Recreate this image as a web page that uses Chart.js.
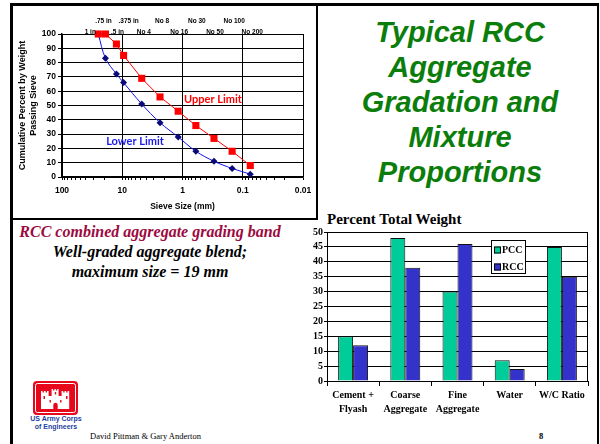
<!DOCTYPE html>
<html>
<head>
<meta charset="utf-8">
<script src="https://cdn.jsdelivr.net/npm/chart.js@4.4.1/dist/chart.umd.min.js"></script>
<style>
  html, body { margin: 0; padding: 0; background: #fff; }
  body { width: 600px; height: 444px; position: relative; overflow: hidden; }
  .rule { position: absolute; background: #000; }
  #gradBox { position: absolute; left: 11px; top: 4px; width: 305px; height: 212px; border: 2px solid #000; border-left: none; }
  #gradCanvas { position: absolute; left: 13px; top: 6px; }
  #mixCanvas { position: absolute; left: 296px; top: 225px; }
  #heading { position: absolute; left: 330px; top: 15px; width: 260px; text-align: center;
             font: italic bold 29px "Liberation Sans", Arial, sans-serif; line-height: 35px; color: #0b7d0b; }
  #band { position: absolute; left: 12px; top: 222px; width: 276px; text-align: center;
          font: italic bold 16px "Liberation Serif", "Times New Roman", serif; line-height: 20px; color: #000; }
  #band .lead { color: #9c0a40; }
  #mixTitle { position: absolute; left: 327px; top: 210px; font: bold 15px "Liberation Serif", serif; line-height: 18px; color: #000; }
  #logo { position: absolute; left: 33px; top: 381px; }
  #corps { position: absolute; left: 24px; top: 415px; width: 64px; text-align: center;
           font: bold 7px "Liberation Sans", Arial, sans-serif; line-height: 8px; color: #1d3f9e; }
  #authors { position: absolute; left: 90px; top: 431px; font: 8.5px "Liberation Serif", serif; line-height: 10px; color: #000; }
  #page { position: absolute; left: 539px; top: 431px; font: bold 8.5px "Liberation Serif", serif; line-height: 10px; color: #000; }
</style>
</head>
<body>
<div class="rule" style="left:10px;top:3px;width:589px;height:3px;"></div>
<div class="rule" style="left:10px;top:3px;width:3px;height:441px;"></div>
<div class="rule" style="left:597px;top:3px;width:2px;height:441px;"></div>
<div id="gradBox"></div>
<canvas id="gradCanvas" width="303" height="210"></canvas>

<div id="heading">Typical RCC<br>Aggregate<br>Gradation and<br>Mixture<br>Proportions</div>

<div id="band"><span class="lead">RCC combined aggregate grading band</span><br>Well-graded aggregate blend;<br>maximum size = 19 mm</div>

<div id="mixTitle">Percent Total Weight</div>
<canvas id="mixCanvas" width="300" height="195"></canvas>

<svg id="logo" width="45" height="34" viewBox="0 0 45 34">
  <rect x="0" y="0" width="45" height="34" rx="4" fill="#e8081c"/>
  <rect x="2.5" y="2.5" width="40" height="29" rx="2" fill="none" stroke="#fff" stroke-width="1"/>
  <!-- castle -->
  <path fill="#fff" d="M8 28 V10 h1.6 v1.6 h1.4 V10 h1.6 v1.6 h1.4 V10 h1.6 v5 h3 V8 h1.4 v1.5 h1.4 V8 h1.4 v1.5 h1.4 V8 h1.4 v7 h3 V10 h1.6 v1.6 h1.4 V10 h1.6 v1.6 h1.4 V10 h1.6 V28 Z"/>
  <path fill="#e8081c" d="M20.3 28 v-4 a2.2 2.2 0 0 1 4.4 0 v4 Z"/>
  <rect x="10.5" y="15" width="1.5" height="3" fill="#e8081c"/>
  <rect x="33" y="15" width="1.5" height="3" fill="#e8081c"/>
  <rect x="21.8" y="11" width="1.4" height="2.5" fill="#e8081c"/>
  <rect x="16.5" y="19" width="1.4" height="2.5" fill="#e8081c"/>
  <rect x="27.1" y="19" width="1.4" height="2.5" fill="#e8081c"/>
</svg>
<div id="corps">US Army Corps<br>of Engineers</div>
<div id="authors">David Pittman &amp; Gary Anderton</div>
<div id="page">8</div>

<script>
// ---- Aggregate gradation band ----
const sieveSizes = [25, 19, 12.5, 9.5, 4.75, 2.36, 1.18, 0.6, 0.3, 0.15, 0.075]; // mm
const sieveNames = ['1 in', '.75 in', '.5 in', '.375 in', 'No 4', 'No 8', 'No 16', 'No 30', 'No 50', 'No 100', 'No 200'];
const upperLimit = [100, 100, 93, 85, 69, 56, 46, 36, 27, 18, 8];
const lowerLimit = [100, 83, 72, 66, 51, 38, 28, 18, 11, 6, 2];
const decadeTicks = [100, 10, 1, 0.1, 0.01];
const percentTicks = [0, 10, 20, 30, 40, 50, 60, 70, 80, 90, 100];

// ---- Mixture proportions ----
const mixCategories = [['Cement +', 'Flyash'], ['Coarse', 'Aggregate'], ['Fine', 'Aggregate'], 'Water', 'W/C Ratio'];
const pccValues = [15, 48, 30, 7, 45];
const rccValues = [12, 38, 46, 4, 35];
const weightTicks = [0, 5, 10, 15, 20, 25, 30, 35, 40, 45, 50];

const SANS = '"Liberation Sans", Arial, sans-serif';
const SERIF = '"Liberation Serif", "Times New Roman", serif';

const isDecade = v => decadeTicks.some(d => Math.abs(d - v) / d < 1e-6);

// text labels naming each limit curve, placed in data space
const curveLabels = {
  id: 'curveLabels',
  afterDatasetsDraw(chart, args, opts) {
    const { ctx, scales } = chart;
    ctx.save();
    ctx.font = 'bold 11px Lato, "Open Sans", sans-serif';
    ctx.textAlign = 'center';
    ctx.textBaseline = 'middle';
    for (const l of opts.items) {
      ctx.fillStyle = l.color;
      ctx.fillText(l.text, scales.x.getPixelForValue(l.x), scales.y.getPixelForValue(l.y));
    }
    ctx.restore();
  }
};

// sieve designations above the plot, staggered on two rows
const sieveAxis = {
  id: 'sieveAxis',
  afterDraw(chart, args, opts) {
    const { ctx, scales, chartArea } = chart;
    ctx.save();
    ctx.font = 'bold 6.5px ' + SANS;
    ctx.fillStyle = '#000';
    ctx.textAlign = 'center';
    ctx.textBaseline = 'middle';
    sieveSizes.forEach((s, i) => {
      const row = i % 2 === 0 ? opts.lowerRow : opts.upperRow;
      const x = scales.x.getPixelForValue(s) + (opts.nudge[i] || 0);
      ctx.fillText(sieveNames[i], x, chartArea.top - row);
    });
    ctx.restore();
  }
};

new Chart(document.getElementById('gradCanvas'), {
  type: 'scatter',
  data: {
    datasets: [
      {
        label: 'Upper Limit',
        data: sieveSizes.map((s, i) => ({ x: s, y: upperLimit[i] })),
        showLine: true,
        borderColor: '#ff0000', backgroundColor: '#ff0000', borderWidth: 1,
        pointStyle: 'rect', pointRadius: 5, pointBorderWidth: 0,
        tension: 0, clip: false
      },
      {
        label: 'Lower Limit',
        data: sieveSizes.map((s, i) => ({ x: s, y: lowerLimit[i] })),
        showLine: true,
        borderColor: '#1010f0', backgroundColor: '#0a0a78', borderWidth: 1,
        pointStyle: 'rectRot', pointRadius: 3.5, pointBorderWidth: 0,
        pointBorderColor: '#0a0a78',
        tension: 0.35, clip: false
      }
    ]
  },
  options: {
    responsive: false, animation: false,
    layout: { padding: { left: 0, top: 28, right: 13, bottom: 0 } },
    plugins: {
      legend: { display: false }, tooltip: { enabled: false },
      curveLabels: {
        items: [
          { text: 'Upper Limit', x: 0.312, y: 54.5, color: '#ff0000' },
          { text: 'Lower Limit', x: 6.14, y: 25.2, color: '#1a1aee' }
        ]
      },
      sieveAxis: { upperRow: 12.5, lowerRow: 2, nudge: [-8, -2, 1, 5, 2, 2, 1, 1, 1, 2, 2] }
    },
    scales: {
      x: {
        type: 'logarithmic', position: 'bottom', reverse: true, min: 0.01, max: 100,
        afterBuildTicks(s) {
          const t = [];
          for (let e = -2; e <= 1; e++) for (let m = 1; m <= 9; m++) t.push({ value: +(m * Math.pow(10, e)).toPrecision(6) });
          t.push({ value: 100 });
          s.ticks = t;
        },
        afterFit(s) { s.height = 39; },
        ticks: {
          autoSkip: false, maxRotation: 0, minRotation: 0, padding: 6, color: '#000',
          font: { family: SANS, size: 8.5, weight: 'bold' },
          callback(v) { const d = decadeTicks.find(x => Math.abs(x - v) / x < 1e-6); return d !== undefined ? String(d) : ''; }
        },
        grid: {
          color: c => (c.tick && isDecade(c.tick.value)) ? '#000' : 'rgba(0,0,0,0)',
          tickColor: '#000', tickLength: 3, lineWidth: 1
        },
        border: { color: '#000', width: 1.5 },
        title: { display: true, text: 'Sieve Size (mm)', color: '#000', font: { family: SANS, size: 8.5, weight: 'bold' }, padding: { top: 0, bottom: 4 } }
      },
      y: {
        min: 0, max: 100,
        afterBuildTicks(s) { s.ticks = percentTicks.map(v => ({ value: v })); },
        afterFit(s) { s.width = 49; },
        ticks: { autoSkip: false, padding: 2, color: '#000', font: { family: SANS, size: 8.5, weight: 'bold' } },
        grid: { color: '#000', tickColor: '#000', tickLength: 4, lineWidth: 1 },
        border: { color: '#000', width: 1.5 },
        title: {
          display: true, text: ['Cumulative Percent by Weight', 'Passing Sieve'], color: '#000',
          font: { family: SANS, size: 9, weight: 'bold', lineHeight: 1.25 }, padding: { top: 3.4, bottom: 0 }
        }
      }
    }
  },
  plugins: [curveLabels, sieveAxis]
});

// boxed legend drawn inside the plot, upper right
const insetLegend = {
  id: 'insetLegend',
  afterDraw(chart, args, opts) {
    const { ctx, chartArea } = chart;
    const x0 = chartArea.left + opts.dx, y0 = chartArea.top + opts.dy;
    ctx.save();
    ctx.fillStyle = '#fff';
    ctx.fillRect(x0, y0, opts.w, opts.h);
    ctx.strokeStyle = '#000'; ctx.lineWidth = 1;
    ctx.strokeRect(x0 + 0.5, y0 + 0.5, opts.w, opts.h);
    ctx.font = 'bold 10px ' + SERIF;
    ctx.textBaseline = 'middle'; ctx.textAlign = 'left';
    chart.data.datasets.forEach((ds, i) => {
      const cy = y0 + 10 + i * 17;
      ctx.fillStyle = ds.backgroundColor;
      ctx.fillRect(x0 + 3, cy - 3.5, 7, 7);
      ctx.strokeRect(x0 + 3.5, cy - 3, 6, 6);
      ctx.fillStyle = '#000';
      ctx.fillText(ds.label, x0 + 11, cy);
    });
    ctx.restore();
  }
};

// frame around the plot area
const plotFrame = {
  id: 'plotFrame',
  afterDraw(chart) {
    const { ctx, chartArea: a } = chart;
    ctx.save();
    ctx.strokeStyle = '#000'; ctx.lineWidth = 1;
    ctx.beginPath();
    ctx.moveTo(a.left, a.top + 0.5); ctx.lineTo(a.right - 0.5, a.top + 0.5); ctx.lineTo(a.right - 0.5, a.bottom);
    ctx.stroke();
    ctx.restore();
  }
};

new Chart(document.getElementById('mixCanvas'), {
  type: 'bar',
  data: {
    labels: mixCategories,
    datasets: [
      { label: 'PCC', data: pccValues, backgroundColor: '#00cc99', borderColor: '#111', borderWidth: 1 },
      { label: 'RCC', data: rccValues, backgroundColor: '#3333cc', borderColor: '#111', borderWidth: 1 }
    ]
  },
  options: {
    responsive: false, animation: false,
    categoryPercentage: 0.574, barPercentage: 1,
    layout: { padding: { left: 0, top: 6, right: 8, bottom: 0 } },
    plugins: {
      legend: { display: false }, tooltip: { enabled: false },
      insetLegend: { dx: 164, dy: 8, w: 34, h: 33 }
    },
    scales: {
      x: {
        afterFit(s) { s.height = 39; },
        grid: { display: true, drawOnChartArea: false, offset: true, tickLength: 5, color: '#000' },
        border: { color: '#000', width: 1 },
        ticks: { padding: 2, color: '#000', autoSkip: false, maxRotation: 0, minRotation: 0,
                 font: { family: SERIF, size: 10, weight: 'bold', lineHeight: 1.4 } }
      },
      y: {
        min: 0, max: 50,
        afterBuildTicks(s) { s.ticks = weightTicks.map(v => ({ value: v })); },
        afterFit(s) { s.width = 31; },
        grid: { color: '#000', tickColor: '#000', tickLength: 3, lineWidth: 1 },
        border: { color: '#000', width: 1 },
        ticks: { autoSkip: false, padding: 1, color: '#000', font: { family: SERIF, size: 10, weight: 'bold' } }
      }
    }
  },
  plugins: [insetLegend, plotFrame]
});
</script>
</body>
</html>
